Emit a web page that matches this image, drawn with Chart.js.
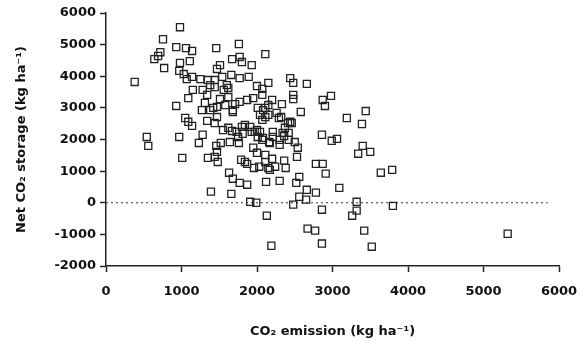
<!DOCTYPE html>
<html>
<head>
<meta charset="utf-8">
<script src="https://cdn.jsdelivr.net/npm/chart.js@4.4.0/dist/chart.umd.min.js"></script>
<style>
  html, body { margin: 0; padding: 0; background: #fff; }
  #wrap { width: 588px; height: 341px; }
</style>
</head>
<body>
<div id="wrap"><canvas id="co2Chart" width="588" height="341"></canvas></div>
<script>
// CO2 emission (x) vs net CO2 storage (y), kg/ha
const emission = [
  980, 755, 930, 1060, 1140, 1460, 1760, 2110, 720, 690,
  640, 980, 1110, 770, 380, 970, 1030, 1070, 1140, 1250,
  1350, 1440, 1470, 1510, 1670, 1770, 1800, 1930, 1540, 1660,
  1770, 1890, 2000, 2070, 2150, 1150, 1280, 1380, 1440, 1600,
  1560, 1620, 1090, 1340, 1620, 2440, 2480, 2660, 2480, 2480,
  1950, 2070, 1870, 1770, 1510, 2200, 1310, 930, 1270, 1380,
  1470, 1680, 1710, 2010, 2110, 2150, 2330, 2260, 1050, 1090,
  1140, 1340, 1470, 1440, 2980, 2870, 2900, 2580, 3440, 3190,
  3390, 2080, 2150, 2290, 2410, 2460, 2370, 2340, 2420, 2210,
  2210, 2040, 2110, 2070, 2320, 2440, 1550, 1620, 1420, 1680,
  1670, 1730, 1800, 1840, 1910, 1930, 2000, 2010, 2080, 2160,
  2300, 2360, 2420, 2500, 2540, 2530, 540, 560, 970, 1010,
  1280, 1230, 1350, 1460, 1470, 1440, 1480, 1520, 1640, 1750,
  1760, 1810, 1840, 1870, 1950, 2000, 1960, 2030, 2110, 2150,
  2200, 2170, 2110, 2360, 2380, 2860, 2990, 3060, 3400, 3340,
  3500, 2780, 2870, 2910, 3640, 3790, 2070, 2170, 2300, 1970,
  2040, 2240, 1790, 1630, 1680, 1770, 1870, 1390, 1660, 1910,
  1990, 2120, 2300, 2520, 2560, 2660, 2780, 2650, 2560, 2480,
  3090, 3320, 3800, 2860, 3320, 2130, 3260, 2670, 2770, 3420,
  2190, 2860, 3520, 5320, 1580
];

const storage = [
  5550, 5170, 4920, 4890, 4800, 4890, 5020, 4700, 4760, 4640,
  4540, 4420, 4480, 4260, 3820, 4170, 4070, 3910, 3980, 3910,
  3880, 3880, 4230, 4350, 4540, 4610, 4450, 4350, 3980, 4040,
  3940, 3980, 3690, 3600, 3790, 3570, 3570, 3720, 3660, 3720,
  3570, 3630, 3310, 3410, 3340, 3940, 3790, 3760, 3410, 3280,
  3310, 3410, 3250, 3190, 3280, 3250, 3160, 3060, 2930, 2930,
  3030, 2930, 3120, 3000, 3000, 3090, 3120, 2840, 2680, 2560,
  2430, 2590, 2710, 2520, 3380, 3250, 3060, 2870, 2900, 2680,
  2490, 2930, 2780, 2680, 2520, 2520, 2370, 2210, 2210, 2240,
  2080, 2780, 2710, 2620, 2710, 2560, 2300, 2370, 3000, 2870,
  2270, 2240, 2400, 2460, 2400, 2240, 2300, 2080, 2050, 1920,
  1990, 2110, 1990, 1920, 1740, 1450, 2080, 1800, 2080, 1420,
  2150, 1890, 1420, 1800, 1610, 1450, 1290, 1890, 1920, 2080,
  1890, 2180, 1290, 1230, 1740, 1580, 1100, 1140, 1290, 1100,
  1390, 1040, 1510, 1330, 1100, 2150, 1960, 2020, 1800, 1550,
  1610, 1230, 1230, 920, 950, 1040, 1990, 1890, 1830, 2240,
  2240, 1140, 1360, 950, 760, 630, 570, 350, 280, 30,
  0, 660, 690, 630, 820, 410, 320, 100, 190, -60,
  470, 30, -100, -220, -250, -410, -410, -820, -880, -880,
  -1360, -1290, -1390, -980, 3090
];

// dotted reference line at zero storage
const zeroLineX = [0, 5850];
const zeroLineY = [0, 0];

const xTitle = "CO\u2082 emission (kg ha\u207B\u00B9)";
const yTitle = "Net CO\u2082 storage (kg ha\u207B\u00B9)";

document.addEventListener("DOMContentLoaded", function () {

    const ctx = document.getElementById("co2Chart");
    if (!ctx) {
        return;
    }

    Chart.defaults.font.family = "'DejaVu Sans', sans-serif";
    Chart.defaults.color = "#111";

    const points = emission.map((x, i) => ({ x: x, y: storage[i] }));
    const zeroLine = zeroLineX.map((x, i) => ({ x: x, y: zeroLineY[i] }));

    const tickFont = { size: 13, weight: "bold" };
    const titleFont = { size: 13, weight: "bold" };

    // plain numbers, no thousands separator
    const plainTick = function (value) {
        return String(value);
    };

    new Chart(ctx, {
        type: "scatter",
        data: {
            datasets: [{
                label: "fields",
                data: points,
                pointStyle: "rect",
                pointRadius: 5,
                pointBorderWidth: 1.3,
                borderColor: "#222",
                backgroundColor: "rgba(255,255,255,0)"
            }, {
                label: "zero",
                data: zeroLine,
                showLine: true,
                pointRadius: 0,
                borderColor: "#333",
                borderWidth: 1,
                borderDash: [2, 3]
            }]
        },
        options: {
            responsive: false,
            animation: false,
            layout: {
                padding: { left: 14, right: 29, top: 13, bottom: 0 }
            },
            plugins: {
                legend: { display: false },
                tooltip: { enabled: false }
            },
            scales: {
                x: {
                    type: "linear",
                    min: 0,
                    max: 6000,
                    ticks: { stepSize: 1000, padding: 12, font: tickFont, color: "#111", callback: plainTick },
                    grid: {
                        drawOnChartArea: false,
                        drawTicks: true,
                        tickLength: 6,
                        tickColor: "#222",
                        tickWidth: 1.5
                    },
                    border: { display: true, color: "#222", width: 1.5 },
                    title: {
                        display: true,
                        text: xTitle,
                        font: titleFont,
                        color: "#111",
                        padding: { top: 4, bottom: 2 }
                    },
                    afterFit: function (scale) {
                        scale.height = 75;
                        scale.paddingLeft = 0;
                        scale.paddingRight = 0;
                    }
                },
                y: {
                    type: "linear",
                    min: -2000,
                    max: 6000,
                    ticks: { stepSize: 1000, padding: 4, font: tickFont, color: "#111", callback: plainTick },
                    grid: {
                        drawOnChartArea: false,
                        drawTicks: true,
                        tickLength: 6,
                        tickColor: "#222",
                        tickWidth: 1.5
                    },
                    border: { display: true, color: "#222", width: 1.5 },
                    title: {
                        display: true,
                        text: yTitle,
                        font: titleFont,
                        color: "#111",
                        padding: { top: 0, bottom: 4 }
                    },
                    afterFit: function (scale) {
                        scale.width = 92;
                        scale.paddingTop = 0;
                        scale.paddingBottom = 0;
                    }
                }
            }
        }
    });

});
</script>
</body>
</html>
